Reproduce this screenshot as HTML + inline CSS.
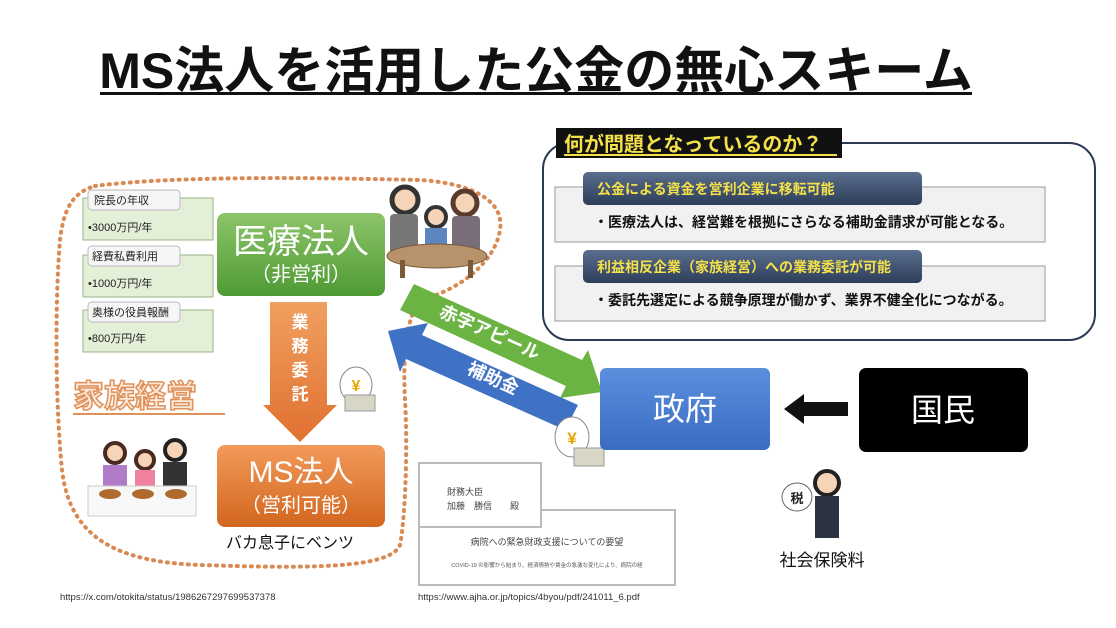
<!DOCTYPE html>
<html><head><meta charset="utf-8"><style>
html,body{margin:0;padding:0;background:#fff;}
svg{display:block;font-family:"Liberation Sans","Noto Sans CJK JP",sans-serif;}
</style></head><body>
<svg width="1116" height="628" viewBox="0 0 1116 628" xmlns="http://www.w3.org/2000/svg">
<defs>
<linearGradient id="gG" x1="0" y1="0" x2="0" y2="1"><stop offset="0" stop-color="#8cc56a"/><stop offset="1" stop-color="#4f9a33"/></linearGradient>
<linearGradient id="gO" x1="0" y1="0" x2="0" y2="1"><stop offset="0" stop-color="#f29a5a"/><stop offset="1" stop-color="#d2661e"/></linearGradient>
<linearGradient id="gB" x1="0" y1="0" x2="0" y2="1"><stop offset="0" stop-color="#5b8fdc"/><stop offset="1" stop-color="#3a6cc4"/></linearGradient>
<linearGradient id="gN" x1="0" y1="0" x2="0" y2="1"><stop offset="0" stop-color="#5a6e8e"/><stop offset="1" stop-color="#2e3e5a"/></linearGradient>
<linearGradient id="gA" x1="0" y1="0" x2="0" y2="1"><stop offset="0" stop-color="#f0a060"/><stop offset="1" stop-color="#e07030"/></linearGradient>
</defs>
<rect width="1116" height="628" fill="#fff"/>
<text x="536" y="88" font-size="50" font-weight="bold" text-anchor="middle" fill="#111">MS法人を活用した公金の無心スキーム</text>
<rect x="100" y="92" width="872" height="3" fill="#111"/>

<path d="M95,186 C180,175 330,178 420,180 C470,183 505,200 500,230 C495,262 460,290 420,300 C405,320 403,360 405,400 C408,450 405,520 400,545 C390,570 300,568 200,565 C120,562 70,540 62,470 C55,400 55,300 60,240 C64,205 75,192 95,186 Z" fill="none" stroke="#d98a52" stroke-width="4" stroke-dasharray="1 6" stroke-linecap="round"/>

<g font-size="11" fill="#222">
<rect x="83" y="198" width="130" height="42" fill="#e4efd8" stroke="#9ab687"/>
<rect x="88" y="190" width="92" height="20" rx="4" fill="#f6f6f6" stroke="#bbb"/>
<text x="94" y="204">院長の年収</text><text x="88" y="231">•3000万円/年</text>
<rect x="83" y="255" width="130" height="42" fill="#e4efd8" stroke="#9ab687"/>
<rect x="88" y="246" width="92" height="20" rx="4" fill="#f6f6f6" stroke="#bbb"/>
<text x="92" y="260">経費私費利用</text><text x="88" y="287">•1000万円/年</text>
<rect x="83" y="310" width="130" height="42" fill="#e4efd8" stroke="#9ab687"/>
<rect x="88" y="302" width="92" height="20" rx="4" fill="#f6f6f6" stroke="#bbb"/>
<text x="92" y="316">奥様の役員報酬</text><text x="88" y="342">•800万円/年</text>
</g>

<rect x="217" y="213" width="168" height="83" rx="8" fill="url(#gG)"/>
<text x="301" y="253" font-size="34" fill="#fff" text-anchor="middle">医療法人</text>
<text x="301" y="281" font-size="20" fill="#fff" text-anchor="middle">（非営利）</text>

<path d="M270,302 H327 V405 H337 L300,442 L263,405 H270 Z" fill="url(#gA)"/>
<g font-size="17" fill="#fff" font-weight="bold" text-anchor="middle">
<text x="300" y="328">業</text><text x="300" y="352">務</text><text x="300" y="376">委</text><text x="300" y="400">託</text>
</g>
<ellipse cx="356" cy="385" rx="16" ry="18" fill="#fff" stroke="#888"/>
<text x="356" y="391" font-size="16" fill="#e6a800" text-anchor="middle" font-weight="bold">¥</text>
<rect x="345" y="395" width="30" height="16" fill="#d8d6c6" stroke="#999"/>

<rect x="217" y="445" width="168" height="82" rx="8" fill="url(#gO)"/>
<text x="301" y="482" font-size="30" fill="#fff" text-anchor="middle">MS法人</text>
<text x="301" y="512" font-size="20" fill="#fff" text-anchor="middle">（営利可能）</text>
<text x="226" y="548" font-size="16" fill="#111">バカ息子にベンツ</text>

<text x="73" y="407" font-size="31" font-weight="bold" fill="#fbe9dc" stroke="#e0915a" stroke-width="1.5">家族経営</text>
<rect x="73" y="413" width="152" height="2" fill="#e0915a"/>

<circle cx="115" cy="453" r="10" fill="#f5d4b8" stroke="#4a2a20" stroke-width="4"/>
<rect x="103" y="465" width="24" height="22" fill="#b07cc8"/>
<circle cx="145" cy="460" r="9" fill="#f5d4b8" stroke="#4a2a20" stroke-width="4"/>
<rect x="135" y="470" width="20" height="17" fill="#f080a0"/>
<circle cx="175" cy="450" r="10" fill="#f5d4b8" stroke="#222" stroke-width="4"/>
<rect x="163" y="462" width="24" height="26" fill="#333"/>
<rect x="88" y="486" width="108" height="30" fill="#f8f8f8" stroke="#ccc"/>
<ellipse cx="110" cy="494" rx="11" ry="5" fill="#b06a30"/><ellipse cx="143" cy="494" rx="11" ry="5" fill="#b06a30"/><ellipse cx="176" cy="494" rx="11" ry="5" fill="#b06a30"/>

<circle cx="405" cy="200" r="13" fill="#f5d4b8" stroke="#333" stroke-width="5"/>
<rect x="390" y="214" width="28" height="40" fill="#777" rx="4"/>
<circle cx="436" cy="217" r="10" fill="#f5d4b8" stroke="#333" stroke-width="4"/>
<rect x="425" y="228" width="22" height="20" fill="#5b86c0"/>
<circle cx="465" cy="203" r="12" fill="#f5d4b8" stroke="#5a3a2a" stroke-width="5"/>
<rect x="452" y="216" width="28" height="38" fill="#7a6d7a" rx="4"/>
<ellipse cx="437" cy="256" rx="50" ry="12" fill="#b8926a" stroke="#7a5a3a"/>
<rect x="400" y="260" width="5" height="18" fill="#7a5a3a"/><rect x="468" y="260" width="5" height="18" fill="#7a5a3a"/>

<path d="M414,284 L582,360 L588,350 L602,392 L560,398 L566,386 L400,310 Z" fill="#6bb443"/>
<text x="0" y="0" font-size="18" fill="#fff" font-weight="bold" transform="translate(438,316) rotate(24)">赤字アピール</text>
<path d="M565,430 L406,359 L400,372 L388,331 L428,323 L422,335 L578,405 Z" fill="#3f72c4"/>
<text x="0" y="0" font-size="18" fill="#fff" font-weight="bold" transform="translate(466,373) rotate(24)">補助金</text>
<ellipse cx="572" cy="437" rx="17" ry="20" fill="#fff" stroke="#888"/>
<text x="572" y="444" font-size="17" fill="#e6a800" text-anchor="middle" font-weight="bold">¥</text>
<rect x="574" y="448" width="30" height="18" fill="#d8d6c6" stroke="#999"/>

<rect x="600" y="368" width="170" height="82" rx="6" fill="url(#gB)"/>
<text x="685" y="420" font-size="32" fill="#fff" text-anchor="middle">政府</text>
<path d="M848,402 H804 V394 L784,409 L804,424 V416 H848 Z" fill="#111"/>
<rect x="859" y="368" width="169" height="84" rx="7" fill="#000"/>
<text x="943" y="421" font-size="32" fill="#fff" text-anchor="middle">国民</text>

<circle cx="827" cy="483" r="12" fill="#f5d4b8" stroke="#222" stroke-width="4"/>
<rect x="815" y="496" width="24" height="42" fill="#2c3444"/>
<ellipse cx="797" cy="497" rx="15" ry="14" fill="#fff" stroke="#666"/>
<text x="797" y="503" font-size="13" font-weight="bold" text-anchor="middle" fill="#222">税</text>
<text x="822" y="566" font-size="17" text-anchor="middle" fill="#111">社会保険料</text>

<rect x="543" y="143" width="552" height="197" rx="26" fill="#fff" stroke="#2a3a52" stroke-width="2"/>
<rect x="556" y="128" width="286" height="30" fill="#111"/>
<text x="564" y="151" font-size="20" font-weight="bold" fill="#f4e14a">何が問題となっているのか？</text>
<rect x="564" y="154" width="273" height="2" fill="#f4e14a"/>

<rect x="555" y="187" width="490" height="55" fill="#f1f1f1" stroke="#999"/>
<rect x="583" y="172" width="339" height="33" rx="5" fill="url(#gN)"/>
<text x="597" y="194" font-size="14" font-weight="bold" fill="#f4e14a">公金による資金を営利企業に移転可能</text>
<text x="594" y="227" font-size="14" font-weight="bold" fill="#111">・医療法人は、経営難を根拠にさらなる補助金請求が可能となる。</text>

<rect x="555" y="266" width="490" height="55" fill="#f1f1f1" stroke="#999"/>
<rect x="583" y="250" width="339" height="33" rx="5" fill="url(#gN)"/>
<text x="597" y="272" font-size="14" font-weight="bold" fill="#f4e14a">利益相反企業（家族経営）への業務委託が可能</text>
<text x="594" y="305" font-size="14" font-weight="bold" fill="#111">・委託先選定による競争原理が働かず、業界不健全化につながる。</text>

<rect x="419" y="510" width="256" height="75" fill="#fff" stroke="#bbb" stroke-width="2"/>
<rect x="419" y="463" width="122" height="64" fill="#fff" stroke="#bbb" stroke-width="2"/>
<text x="447" y="495" font-size="9" fill="#444">財務大臣</text>
<text x="447" y="509" font-size="9" fill="#444">加藤　勝信　　殿</text>
<text x="547" y="545" font-size="9" fill="#444" text-anchor="middle">病院への緊急財政支援についての要望</text>
<text x="547" y="567" font-size="5.5" fill="#555" text-anchor="middle">COVID-19 の影響から始まり、経済情勢や賃金の急激な変化により、病院の経</text>

<text x="60" y="600" font-size="9.5" fill="#333">https://x.com/otokita/status/1986267297699537378</text>
<text x="418" y="600" font-size="9.5" fill="#333">https://www.ajha.or.jp/topics/4byou/pdf/241011_6.pdf</text>
</svg>
</body></html>
